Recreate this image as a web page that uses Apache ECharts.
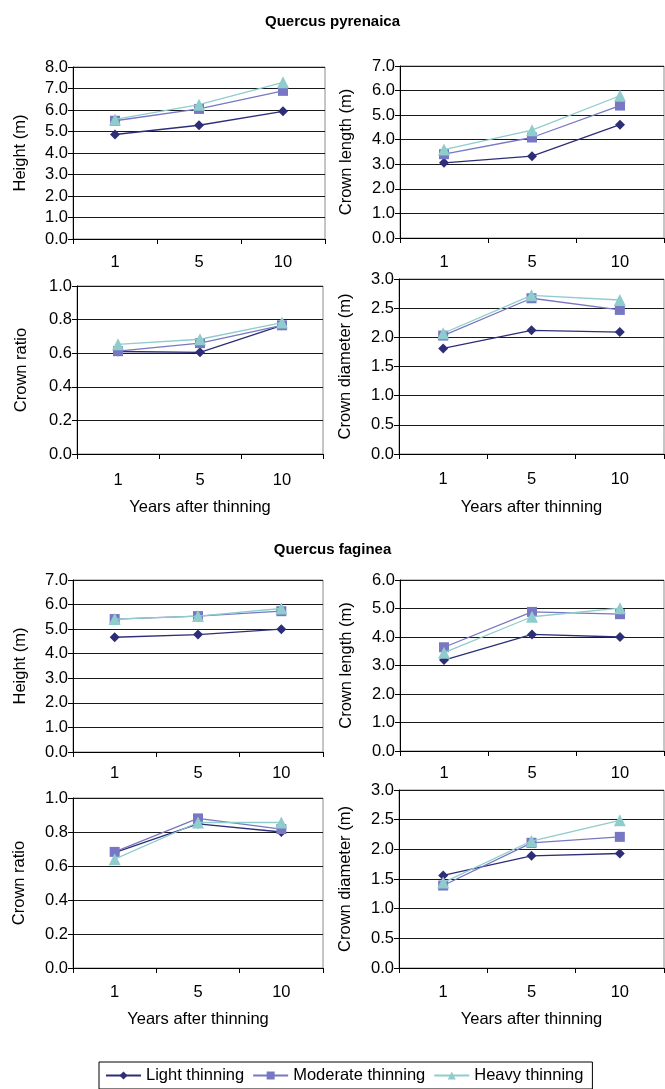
<!DOCTYPE html>
<html>
<head>
<meta charset="utf-8">
<script src="https://cdn.jsdelivr.net/npm/echarts@6/dist/echarts.min.js"></script>
<style>
html,body{margin:0;padding:0;background:#fff;}
#chart{width:665px;height:1089px;}
</style>
</head>
<body>
<div id="chart"></div>
<script>
var years = ['1', '5', '10'];
var seriesNames = ['Light thinning', 'Moderate thinning', 'Heavy thinning'];

// Quercus pyrenaica
var pyrHeightLight = [4.86, 5.29, 5.94];
var pyrHeightModerate = [5.50, 6.05, 6.89];
var pyrHeightHeavy = [5.56, 6.25, 7.29];

var pyrCrownLengthLight = [3.06, 3.33, 4.61];
var pyrCrownLengthModerate = [3.41, 4.09, 5.39];
var pyrCrownLengthHeavy = [3.60, 4.39, 5.79];

var pyrCrownRatioLight = [0.61, 0.605, 0.766];
var pyrCrownRatioModerate = [0.612, 0.66, 0.766];
var pyrCrownRatioHeavy = [0.653, 0.683, 0.782];

var pyrCrownDiamLight = [1.81, 2.12, 2.09];
var pyrCrownDiamModerate = [2.03, 2.67, 2.47];
var pyrCrownDiamHeavy = [2.07, 2.72, 2.64];

// Quercus faginea
var fagHeightLight = [4.67, 4.78, 5.00];
var fagHeightModerate = [5.41, 5.53, 5.73];
var fagHeightHeavy = [5.41, 5.53, 5.84];

var fagCrownLengthLight = [3.19, 4.09, 4.00];
var fagCrownLengthModerate = [3.64, 4.88, 4.80];
var fagCrownLengthHeavy = [3.45, 4.71, 5.01];

var fagCrownRatioLight = [0.679, 0.848, 0.80];
var fagCrownRatioModerate = [0.683, 0.88, 0.817];
var fagCrownRatioHeavy = [0.64, 0.856, 0.856];

var fagCrownDiamLight = [1.56, 1.89, 1.93];
var fagCrownDiamModerate = [1.39, 2.11, 2.21];
var fagCrownDiamHeavy = [1.44, 2.14, 2.49];

var titles = ['Quercus pyrenaica', 'Quercus faginea'];
var xAxisTitle = 'Years after thinning';

var panels = [
  {yName: 'Height (m)', max: 8, interval: 1, data: [pyrHeightLight, pyrHeightModerate, pyrHeightHeavy],
   grid: {left: 73, top: 67, width: 252, height: 172}, nameGap: 44, labelMargin: 15, xName: false},
  {yName: 'Crown length (m)', max: 7, interval: 1, data: [pyrCrownLengthLight, pyrCrownLengthModerate, pyrCrownLengthHeavy],
   grid: {left: 400, top: 66, width: 264, height: 172}, nameGap: 45, labelMargin: 16, xName: false},
  {yName: 'Crown ratio', max: 1, interval: 0.2, data: [pyrCrownRatioLight, pyrCrownRatioModerate, pyrCrownRatioHeavy],
   grid: {left: 77, top: 286, width: 246, height: 168}, nameGap: 47, labelMargin: 18, xName: true, xGap: 45},
  {yName: 'Crown diameter (m)', max: 3, interval: 0.5, data: [pyrCrownDiamLight, pyrCrownDiamModerate, pyrCrownDiamHeavy],
   grid: {left: 399, top: 279, width: 265, height: 175}, nameGap: 45, labelMargin: 17, xName: true, xGap: 45},
  {yName: 'Height (m)', max: 7, interval: 1, data: [fagHeightLight, fagHeightModerate, fagHeightHeavy],
   grid: {left: 73, top: 580, width: 250, height: 172}, nameGap: 44, labelMargin: 13, xName: false},
  {yName: 'Crown length (m)', max: 6, interval: 1, data: [fagCrownLengthLight, fagCrownLengthModerate, fagCrownLengthHeavy],
   grid: {left: 400, top: 580, width: 264, height: 171}, nameGap: 45, labelMargin: 14, xName: false},
  {yName: 'Crown ratio', max: 1, interval: 0.2, data: [fagCrownRatioLight, fagCrownRatioModerate, fagCrownRatioHeavy],
   grid: {left: 73, top: 798, width: 250, height: 170}, nameGap: 45, labelMargin: 16, xName: true, xGap: 43},
  {yName: 'Crown diameter (m)', max: 3, interval: 0.5, data: [fagCrownDiamLight, fagCrownDiamModerate, fagCrownDiamHeavy],
   grid: {left: 399, top: 790, width: 265, height: 178}, nameGap: 45, labelMargin: 16, xName: true, xGap: 43}
];

var colors = ['#2E2E78', '#7777C4', '#8FCCCC'];
var symbols = ['diamond', 'rect', 'triangle'];
var symbolSizes = [10, 10, 12];
var FONT = 'Liberation Sans, Arial, sans-serif';
var FS = 16.5;

var grids = [], xAxes = [], yAxes = [], series = [];
panels.forEach(function (p, i) {
  grids.push({left: p.grid.left, top: p.grid.top, width: p.grid.width, height: p.grid.height,
    show: true, borderColor: '#8c8c8c', borderWidth: 1, backgroundColor: 'transparent'});
  xAxes.push({
    type: 'category', gridIndex: i, data: years, boundaryGap: true,
    axisLine: {lineStyle: {color: '#000', width: 1}},
    axisTick: {show: true, length: 5, inside: false, alignWithLabel: false, interval: 0, lineStyle: {color: '#000'}},
    axisLabel: {color: '#000', fontSize: FS, fontFamily: FONT, margin: p.labelMargin},
    name: p.xName ? xAxisTitle : '', nameLocation: 'middle', nameGap: p.xGap || 40,
    nameTextStyle: {color: '#000', fontSize: FS, fontFamily: FONT}
  });
  yAxes.push({
    type: 'value', gridIndex: i, min: 0, max: p.max, interval: p.interval,
    axisLine: {show: true, lineStyle: {color: '#000', width: 1}},
    axisTick: {show: true, length: 5, inside: false, lineStyle: {color: '#000'}},
    axisLabel: {color: '#000', fontSize: FS, fontFamily: FONT, margin: 5,
      formatter: function (v) { return v.toFixed(1); }},
    splitLine: {show: true, lineStyle: {color: '#1a1a1a', width: 1}},
    name: p.yName, nameLocation: 'middle', nameGap: p.nameGap, nameRotate: 90,
    nameTextStyle: {color: '#000', fontSize: FS, fontFamily: FONT}
  });
  p.data.forEach(function (d, k) {
    series.push({
      type: 'line', name: seriesNames[k], xAxisIndex: i, yAxisIndex: i, data: d,
      symbol: symbols[k], symbolSize: symbolSizes[k], showSymbol: true,
      lineStyle: {color: colors[k], width: 1.3},
      itemStyle: {color: colors[k]},
      z: 3 + k, animation: false
    });
  });
});

var chart = echarts.init(document.getElementById('chart'), null, {renderer: 'canvas'});
chart.setOption({
  animation: false,
  backgroundColor: '#fff',
  title: [
    {text: titles[0], left: 'center', top: 9, textStyle: {fontSize: 15, fontWeight: 'bold', color: '#000', fontFamily: FONT}},
    {text: titles[1], left: 'center', top: 537, textStyle: {fontSize: 15, fontWeight: 'bold', color: '#000', fontFamily: FONT}}
  ],
  legend: {
    data: seriesNames, left: 99, top: 1062, orient: 'horizontal',
    itemWidth: 35, itemHeight: 10, itemGap: 8,
    borderColor: '#000', borderWidth: 1, padding: [5, 9, 5, 6],
    textStyle: {fontSize: FS, color: '#000', fontFamily: FONT}
  },
  grid: grids,
  xAxis: xAxes,
  yAxis: yAxes,
  series: series
});
</script>
</body>
</html>
